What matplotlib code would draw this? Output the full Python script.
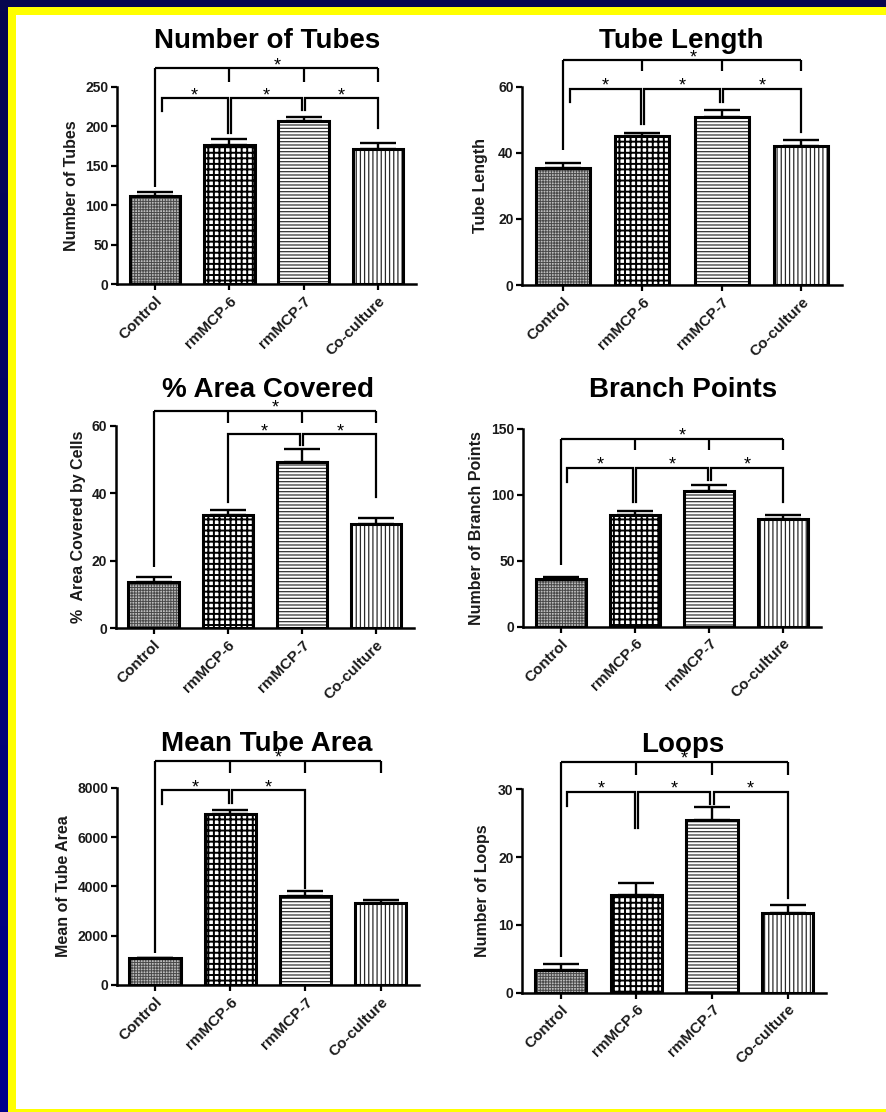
import numpy as np
import matplotlib
matplotlib.use("Agg")
import matplotlib.pyplot as plt
from matplotlib.patches import Rectangle
from matplotlib.colors import LinearSegmentedColormap

plt.rcParams["font.family"] = ["Liberation Sans", "DejaVu Sans"]

# ---- data ---------------------------------------------------------------
groups = ["Control", "rmMCP-6", "rmMCP-7", "Co-culture"]

tubes_mean = [112, 176, 207, 171]
tubes_sem = [5, 8.5, 5, 8]

length_mean = [35.5, 45.0, 50.8, 42.0]
length_sem = [1.5, 1.0, 2.2, 1.8]

area_mean = [13.6, 33.5, 49.3, 30.8]
area_sem = [1.5, 1.5, 3.7, 2.0]

branch_mean = [36, 84.7, 103, 81.5]
branch_sem = [1.6, 3.0, 4.5, 3.5]

tube_area_mean = [1080, 6920, 3610, 3310]
tube_area_sem = [30, 180, 210, 120]

loops_mean = [3.4, 14.4, 25.4, 11.7]
loops_sem = [0.9, 1.8, 2.0, 1.2]

# ---- figure geometry (pixels) ------------------------------------------
W, H = 886, 1112
fig = plt.figure(figsize=(W / 100, H / 100), dpi=100)
fig.patch.set_facecolor("white")


def px_rect(x0, x1, ybot, ytop):
    return [x0 / W, 1 - ybot / H, (x1 - x0) / W, (ybot - ytop) / H]


# fill styles for the four groups
styles = [
    dict(face="#bdbdbd", hatch="++++++", hc="#4a4a4a", hlw=0.7),
    dict(face="white", hatch="+++", hc="black", hlw=1.4),
    dict(face="white", hatch="-----", hc="#353535", hlw=0.9),
    dict(face="white", hatch="||||", hc="#2a2a2a", hlw=0.9),
]

panels = [
    dict(title="Number of Tubes", ylabel="Number of Tubes",
         mean=tubes_mean, sem=tubes_sem, yticks=[0, 50, 100, 150, 200, 250],
         rect=(117, 416, 284, 87), title_xy=(267, 48), ylab_x=71.7,
         top=(273.7, [123, 256.7, 256.7, 256.7]),
         pairs=[(0.09, 0.98, 219.5, 192), (1.02, 1.98, 192, 220.8),
                (2.02, 3.0, 220.8, 198)], level2=235.6),
    dict(title="Tube Length", ylabel="Tube Length",
         mean=length_mean, sem=length_sem, yticks=[0, 20, 40, 60],
         rect=(522, 842, 285, 86.7), title_xy=(681, 48), ylab_x=480.3,
         top=(68.1, [40.8, 64.7, 64.7, 64.7]),
         pairs=[(0.09, 0.98, 55.5, 48.7), (1.02, 1.98, 48.7, 55.5),
                (2.02, 3.0, 55.5, 46.4)], level2=59.4),
    dict(title="% Area Covered", ylabel="%  Area Covered by Cells",
         mean=area_mean, sem=area_sem, yticks=[0, 20, 40, 60],
         rect=(115.7, 414, 628.3, 425.7), title_xy=(268, 397), ylab_x=78.3,
         top=(64.4, [18.2, 60.7, 60.7, 60.7]),
         pairs=[(1.0, 1.98, 37.5, 54.3), (2.02, 3.0, 54.3, 39)], level2=57.5),
    dict(title="Branch Points", ylabel="Number of Branch Points",
         mean=branch_mean, sem=branch_sem, yticks=[0, 50, 100, 150],
         rect=(523, 821, 626.7, 429), title_xy=(683, 397), ylab_x=476.3,
         top=(142.6, [46.8, 134, 134, 134]),
         pairs=[(0.09, 0.98, 110, 94.8), (1.02, 1.98, 94.8, 111.3),
                (2.02, 3.0, 111.3, 94.8)], level2=120.6),
    dict(title="Mean Tube Area", ylabel="Mean of Tube Area",
         mean=tube_area_mean, sem=tube_area_sem,
         yticks=[0, 2000, 4000, 6000, 8000],
         rect=(116.7, 419, 985, 787.7), title_xy=(267, 751), ylab_x=63.3,
         top=(9096, [1285, 8585, 8585, 8585]),
         pairs=[(0.09, 0.98, 7340, 7368), (1.02, 2.0, 7368, 3921)],
         level2=7907),
    dict(title="Loops", ylabel="Number of Loops",
         mean=loops_mean, sem=loops_sem, yticks=[0, 10, 20, 30],
         rect=(522, 826.3, 992.7, 789.3), title_xy=(683, 752), ylab_x=483,
         top=(34.1, [5.3, 32.1, 32.1, 32.1]),
         pairs=[(0.09, 0.98, 27.5, 24.25), (1.02, 1.98, 24.25, 27.9),
                (2.02, 3.0, 27.9, 13.9)], level2=29.65),
]

LW = 1.6          # bracket line width (points)
x = np.arange(len(groups))


def star(ax, xs, y):
    ax.annotate("*", xy=(xs, y), xytext=(0, -1.5), textcoords="offset points",
                ha="center", va="baseline", fontsize=13, color="black",
                annotation_clip=False)


for p in panels:
    x0, x1, yb, yt = p["rect"]
    ax = fig.add_axes(px_rect(x0, x1, yb, yt))
    ymax = p["yticks"][-1]

    # hatched bars, then a black outline on top
    for i, st in enumerate(styles):
        bars = ax.bar(x[i], p["mean"][i], width=0.68, color=st["face"],
                      edgecolor=st["hc"], hatch=st["hatch"], linewidth=0,
                      zorder=2)
        for b in bars:
            if hasattr(b, "set_hatch_linewidth"):
                b.set_hatch_linewidth(st["hlw"])
    ax.bar(x, p["mean"], width=0.68, fill=False, edgecolor="black",
           linewidth=2.2, zorder=4)
    ax.errorbar(x, p["mean"], yerr=[np.zeros(len(x)), p["sem"]], fmt="none",
                ecolor="black", elinewidth=1.7, capsize=13, capthick=1.7,
                zorder=3)

    # significance brackets: Control against all groups
    ytop, bottoms = p["top"]
    ax.plot([0, 3], [ytop, ytop], color="black", lw=LW, clip_on=False,
            solid_capstyle="butt")
    for xi, bt in zip(x, bottoms):
        ax.plot([xi, xi], [ytop, bt], color="black", lw=LW, clip_on=False,
                solid_capstyle="butt")
    star(ax, 1.64, ytop)

    # significance brackets between neighbouring groups
    yl = p["level2"]
    for xa, xb, ba, bb in p["pairs"]:
        ax.plot([xa, xa, xb, xb], [ba, yl, yl, bb], color="black", lw=LW,
                clip_on=False, solid_joinstyle="miter")
        star(ax, (xa + xb) / 2, yl)

    ax.set_xlim(-0.51, 3.51)
    ax.set_ylim(0, ymax)
    ax.set_yticks(p["yticks"])
    ax.set_xticks(x)
    ax.set_xticklabels(groups, rotation=45, ha="right",
                       rotation_mode="anchor", fontsize=11,
                       fontweight="bold", color="#1a1a1a")
    for lab in ax.get_yticklabels():
        lab.set_fontweight("bold")
        lab.set_fontsize(10)
        lab.set_color("#1a1a1a")
    for side in ("top", "right"):
        ax.spines[side].set_visible(False)
    for side in ("left", "bottom"):
        ax.spines[side].set_linewidth(1.8)
    ax.tick_params(axis="both", direction="out", length=4, width=1.6,
                   pad=2)
    ax.tick_params(axis="x", pad=3)
    ax.patch.set_alpha(0)

    # y-axis label
    ax.text((p["ylab_x"] - x0) / (x1 - x0), 0.5, p["ylabel"],
            transform=ax.transAxes, rotation=90, ha="center", va="center",
            fontsize=11.5, fontweight="bold", color="#1a1a1a")

    # panel title
    tx, ty = p["title_xy"]
    fig.text(tx / W, 1 - ty / H, p["title"], ha="center", va="baseline",
             fontsize=20, fontweight="bold", color="black")

# ---- slide frame --------------------------------------------------------
navy_top = "#06064f"
fig.add_artist(Rectangle((0, 1 - 7 / H), 1, 7 / H, transform=fig.transFigure,
                         facecolor=navy_top, edgecolor="none", zorder=10))
band = fig.add_axes([0, 0, 8 / W, 1 - 7 / H], zorder=10)
grad = LinearSegmentedColormap.from_list("navy", [navy_top, "#00008c"])
band.imshow(np.linspace(0, 1, 256).reshape(-1, 1), aspect="auto", cmap=grad,
            extent=[0, 1, 0, 1], origin="upper")
band.set_axis_off()
yellow = "#ffff00"
fig.add_artist(Rectangle((8 / W, 1 - 15 / H), 1, 8 / H,
                         transform=fig.transFigure, facecolor=yellow,
                         edgecolor="none", zorder=11))
fig.add_artist(Rectangle((8 / W, 0), 8 / W, 1 - 7 / H,
                         transform=fig.transFigure, facecolor=yellow,
                         edgecolor="none", zorder=11))
fig.add_artist(Rectangle((8 / W, 0), 1, 3 / H, transform=fig.transFigure,
                         facecolor=yellow, edgecolor="none", zorder=11))

fig.savefig("out.png", dpi=100)
